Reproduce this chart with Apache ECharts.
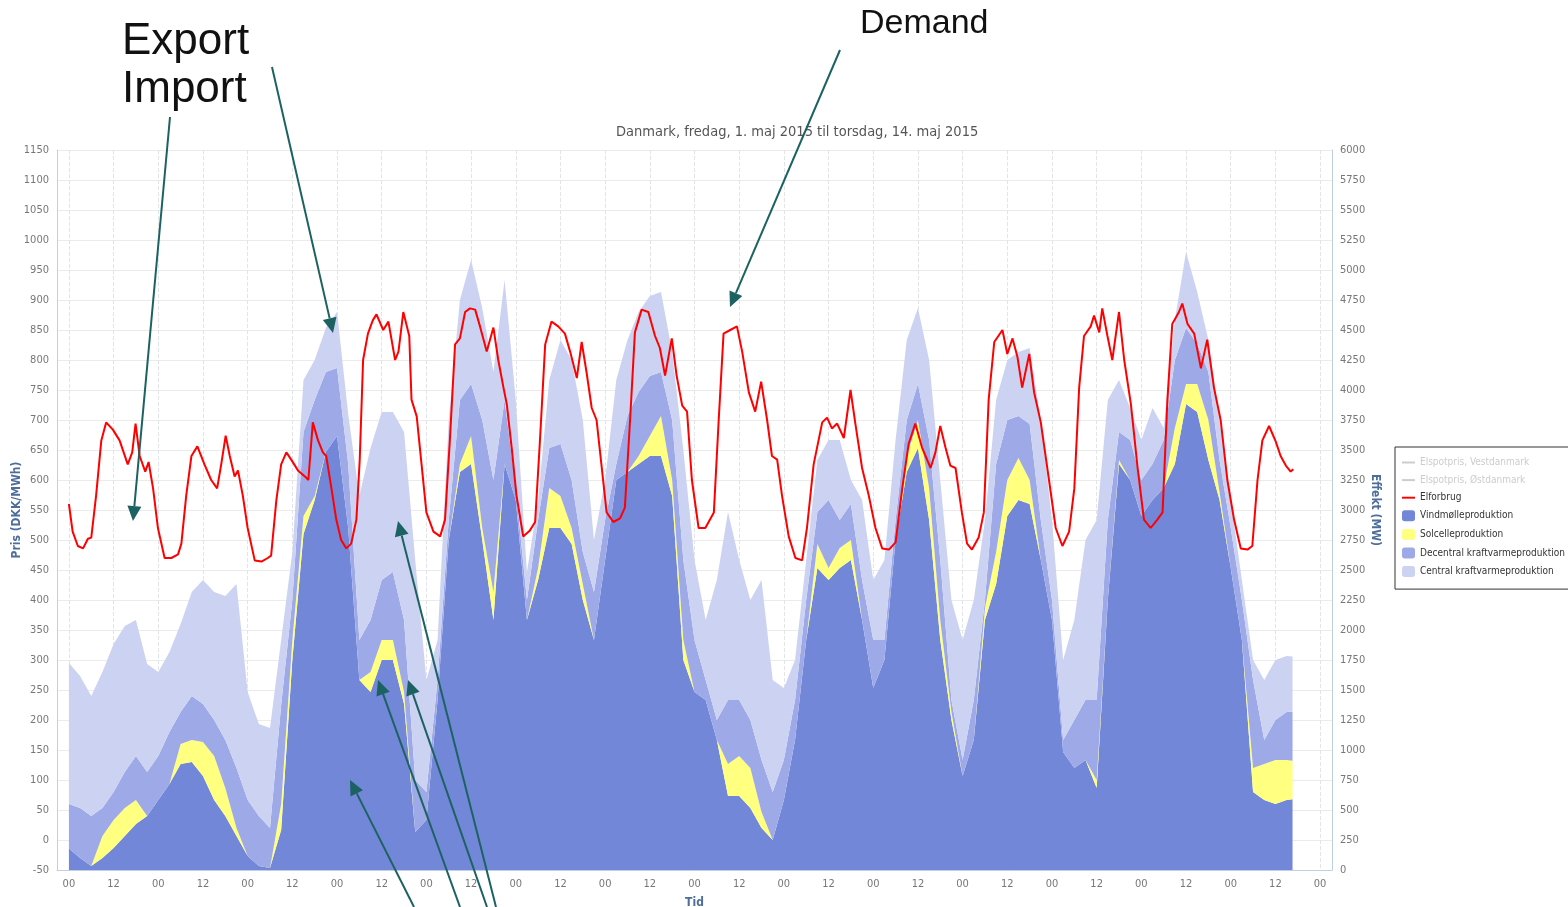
<!DOCTYPE html>
<html>
<head>
<meta charset="utf-8">
<title>Danmark, elproduktion og forbrug, maj 2015</title>
<script src="https://cdn.jsdelivr.net/npm/echarts@6.0.0/dist/echarts.min.js"></script>
<style>
  html, body { margin: 0; padding: 0; background: #fff; }
  #chart { width: 1568px; height: 907px; }
</style>
</head>
<body>
<div id="chart"></div>
<script>
// Production is read every 3 hours (last sample at the right edge of the data)
const prodHours = Array.from({ length: 110 }, (_, i) => i * 3).concat([328.6]);

// Wind production (MW)
const windMW = [
  180, 100, 33, 100, 183, 283, 383, 450,
  583, 717, 883, 900, 783, 583, 450, 283,
  117, 33, 17, 333, 1750, 2800, 3083, 3483,
  3617, 2850, 1583, 1483, 1750, 1750, 1383, 317,
  417, 1417, 2750, 3317, 3383, 2750, 2083, 3383,
  3083, 2083, 2417, 2850, 2850, 2717, 2250, 1917,
  2583, 3250, 3317, 3383, 3450, 3450, 3117, 1750,
  1483, 1417, 1083, 617, 617, 517, 350, 250,
  583, 1083, 1917, 2517, 2417, 2517, 2583, 2083,
  1517, 1750, 2750, 3317, 3517, 2917, 1917, 1250,
  783, 1083, 2083, 2383, 2950, 3083, 3050, 2583,
  2083, 983, 850, 917, 683, 2250, 3383, 3250,
  2950, 3083, 3183, 3383, 3883, 3817, 3417, 3083,
  2517, 1917, 650, 583, 550, 583, 590
];
// Top of the solar layer (wind + solar, MW)
const solarTopMW = [
  180, 100, 33, 283, 417, 517, 583, 450,
  583, 717, 1050, 1083, 1067, 950, 683, 350,
  117, 33, 17, 550, 1917, 2950, 3117, 3483,
  3617, 2850, 1583, 1650, 1917, 1917, 1483, 317,
  417, 1417, 2750, 3383, 3617, 2850, 2317, 3383,
  3083, 2083, 2517, 3183, 3117, 2850, 2383, 1917,
  2583, 3250, 3317, 3450, 3617, 3783, 3250, 1917,
  1483, 1417, 1083, 883, 950, 850, 483, 250,
  583, 1083, 1917, 2717, 2517, 2683, 2750, 2083,
  1517, 1750, 2750, 3450, 3750, 3183, 2083, 1317,
  783, 1083, 2183, 2650, 3250, 3433, 3250, 2583,
  2083, 983, 850, 917, 750, 2250, 3417, 3250,
  2950, 3083, 3183, 3683, 4050, 4050, 3750, 3150,
  2517, 1917, 850, 883, 917, 917, 910
];
// Top of the decentral CHP layer (MW)
const decentralTopMW = [
  550, 517, 450, 517, 650, 817, 950, 817,
  950, 1150, 1317, 1450, 1383, 1250, 1083, 850,
  583, 450, 350, 1375, 2250, 3650, 3917, 4150,
  4183, 3383, 1917, 2083, 2417, 2483, 2083, 750,
  650, 1583, 2917, 3917, 4050, 3750, 3250, 3917,
  3183, 2250, 2917, 3517, 3550, 3250, 2650, 2317,
  2917, 3383, 3783, 3983, 4117, 4150, 3750, 2583,
  1917, 1583, 1250, 1417, 1417, 1250, 917, 650,
  917, 1417, 2250, 2983, 3083, 2917, 3050, 2417,
  1917, 1917, 2917, 3750, 4050, 3583, 2583, 1417,
  917, 1417, 2250, 3383, 3750, 3783, 3717, 2917,
  2250, 1083, 1250, 1417, 1417, 2917, 3650, 3583,
  3250, 3383, 3583, 4250, 4517, 4383, 4150, 3417,
  2850, 2250, 1583, 1083, 1250, 1317, 1320
];
// Top of the central CHP layer, i.e. total production (MW)
const centralTopMW = [
  1725, 1617, 1450, 1650, 1883, 2033, 2083, 1717,
  1650, 1817, 2050, 2317, 2417, 2317, 2283, 2383,
  1483, 1217, 1183, 1917, 2650, 4083, 4250, 4517,
  4650, 3800, 3117, 3517, 3817, 3817, 3650, 2583,
  1583, 1917, 3750, 4750, 5083, 4683, 4150, 4917,
  3917, 2483, 3083, 4083, 4417, 4250, 3750, 2750,
  3250, 4083, 4417, 4650, 4783, 4817, 4317, 3500,
  2583, 2083, 2417, 2983, 2583, 2250, 2417, 1583,
  1517, 1750, 2583, 3417, 3583, 3583, 3250, 3083,
  2417, 2583, 3583, 4417, 4683, 4250, 3250, 2250,
  1917, 2250, 2917, 3917, 4250, 4317, 4350, 3750,
  2917, 1750, 2083, 2750, 2917, 3917, 4083, 3850,
  3583, 3850, 3683, 4583, 5150, 4817, 4417, 3750,
  3083, 2417, 1750, 1583, 1750, 1783, 1780
];

// Electricity demand (Elforbrug), hours since 1 May 00:00 and MW
const demandHours = [
  0, 1, 2.4, 3.8, 5.1, 6, 7.3, 8.7, 10, 11.8, 13.6, 15.8, 17, 17.9, 19, 20.5, 21.4, 22.6, 23.9, 25.7,
  27.5, 29.3, 30.2, 31.5, 32.9, 34.5, 36.4, 38.2, 39.8, 40.9, 42.1, 43.2, 44.5, 45.4, 46.7, 48, 49.9, 51.7, 53.4, 54.3,
  55.7, 57, 58.4, 59.7, 61.5, 63.7, 64.3, 65.5, 66.9, 68.2, 69.1, 70.5, 71.8, 73.1, 74.5, 75.8, 77.2, 78.1, 79, 80.3,
  81.6, 82.6, 84.4, 85.8, 87.6, 88.5, 89.8, 91.4, 92, 93.4, 94.7, 96, 97.9, 99.7, 101, 102.3, 103.7, 105, 106.4, 107.7,
  109.1, 110.4, 112.2, 114, 115.3, 116.7, 117.6, 118.9, 120.2, 122, 123.8, 125.2, 126.5, 127.9, 129.6, 131.4, 133.2, 134.6, 136.4, 137.7,
  139, 140.4, 141.7, 143, 144.4, 146.2, 148, 149.3, 150.7, 152, 153.8, 155.6, 157.4, 158.7, 160.1, 161.9, 163.2,
  164.7, 166, 167.3, 169.1, 170.9, 173.2, 174.5, 175.8, 177.6, 179.4, 180.8, 182.6, 184.3, 185.9, 187.5, 188.8, 190.2, 191.5, 193.3, 195.1,
  196.9, 198.2, 200, 202.3, 203.6, 204.9, 206.3, 208.1, 209.9, 211.2, 213, 214.8, 216.6, 218.4, 220.2, 222, 223.8, 225.5, 227.3, 229.1,
  231.4, 232.7, 234, 235.4, 236.7, 238.1, 239.8, 241.2, 242.5, 244.3, 245.7, 247,
  248.5, 250.7, 252, 253.4, 254.7, 256, 257.9, 259.2, 261, 263.2, 265, 266.8, 268.6, 270, 271.3, 272.6, 274.4, 275.3, 276.7, 277.5,
  278.9, 280.2, 282, 283.4, 285.2, 287, 288.7, 290.5, 292.3, 293.7, 295, 296.3, 298.1, 299, 300.4, 302.2, 304, 305.7, 307.5, 309.3,
  311.1, 312.9, 314.7, 316.5, 317.8, 319.2, 320.5, 322.3, 324.1, 325.4, 326.8, 328.1, 328.8
];
const demandMW = [
  3050, 2820, 2700, 2680, 2760, 2770, 3120, 3580, 3730, 3670, 3580, 3380, 3480, 3720, 3450, 3320, 3400, 3180, 2850, 2600,
  2600, 2630, 2720, 3120, 3450, 3530, 3380, 3250, 3180, 3380, 3620, 3450, 3280, 3330, 3120, 2850, 2580, 2570, 2600, 2620,
  3080, 3380, 3480, 3420, 3330, 3270, 3250, 3730, 3580, 3480, 3450, 3180, 2920, 2750, 2680, 2720, 2920, 3420, 4250, 4470,
  4580, 4630, 4500, 4570, 4250, 4320, 4650, 4450, 3920, 3780, 3380, 2980, 2820, 2780, 2920, 3580, 4380, 4430, 4650, 4680,
  4670, 4530, 4320, 4520, 4250, 4020, 3880, 3520, 3120, 2780, 2830, 2900, 3580, 4380, 4570, 4530, 4470, 4320, 4100, 4400,
  4150, 3850, 3750, 3380, 2980, 2900, 2930, 3020, 3750, 4480, 4670, 4650, 4450, 4350, 4120, 4430, 4120,
  3870, 3820, 3250, 2850, 2850, 2980, 3750, 4470, 4500, 4530, 4320, 3980, 3820, 4070, 3750, 3450, 3420, 3120, 2780, 2600,
  2580, 2850, 3380, 3730, 3770, 3680, 3720, 3600, 4000, 3720, 3350, 3120, 2850, 2680, 2670, 2730, 3180, 3550, 3720, 3520,
  3350, 3480, 3700, 3520, 3370, 3350, 2980, 2720, 2670, 2770, 2980, 3920,
  4400, 4500, 4300, 4430, 4280, 4020, 4300, 3980, 3730, 3250, 2850, 2700, 2820, 3180, 4020, 4450, 4530, 4620, 4480, 4680,
  4450, 4250, 4650, 4250, 3880, 3350, 2920, 2850, 2920, 2980, 3920, 4550, 4650, 4720, 4550, 4470, 4180, 4420, 4020, 3750,
  3250, 2920, 2680, 2670, 2700, 3250, 3580, 3700, 3570, 3450, 3370, 3320, 3340
];

// Series own values (layer thickness) from the stacked tops
const solarMW = solarTopMW.map((v, i) => v - windMW[i]);
const decentralMW = decentralTopMW.map((v, i) => v - solarTopMW[i]);
const centralMW = centralTopMW.map((v, i) => v - decentralTopMW[i]);

const START = new Date(2015, 4, 1).getTime();
const HOUR = 3600 * 1000;
const FONT = "'Liberation Sans Narrow', 'DejaVu Sans Condensed', sans-serif";
const ARROW = '#1d6262';
const AXIS_NAME = { color: '#4d6d9a', fontWeight: 'bold', fontSize: 12, fontFamily: FONT };
const TICK_LABEL = { color: '#777', fontSize: 11, fontFamily: FONT };
const LINE_ICON = 'path://M0,0L16,0L16,2.4L0,2.4Z';

// plot spans 3.2 h before 1 May 00:00 to 3.2 h after 15 May 00:00
const X_MIN = -3.2, X_MAX = 339.2;
const PLOT_LEFT = 57, PLOT_RIGHT = 1332;
const pxPerHour = (PLOT_RIGHT - PLOT_LEFT) / (X_MAX - X_MIN);

function areaSeries(name, color, values) {
  return {
    name: name,
    type: 'line',
    xAxisIndex: 0,
    yAxisIndex: 1,
    stack: 'produktion',
    symbol: 'none',
    lineStyle: { width: 0 },
    itemStyle: { color: color },
    areaStyle: { color: color, opacity: 1 },
    emphasis: { disabled: true },
    data: prodHours.map((h, i) => [START + h * HOUR, values[i]])
  };
}

// line with a filled triangle head at (x2, y2)
function arrow(x1, y1, x2, y2) {
  const a = Math.atan2(y2 - y1, x2 - x1);
  const len = 15, half = 7;
  const bx = x2 - len * Math.cos(a), by = y2 - len * Math.sin(a);
  const nx = -Math.sin(a) * half, ny = Math.cos(a) * half;
  return [
    { type: 'line', z: 100, shape: { x1: x1, y1: y1, x2: bx, y2: by }, style: { stroke: ARROW, lineWidth: 2 } },
    { type: 'polygon', z: 100, shape: { points: [[x2, y2], [bx + nx, by + ny], [bx - nx, by - ny]] }, style: { fill: ARROW } }
  ];
}

function label(text, x, y, size) {
  return {
    type: 'text', z: 100, x: x, y: y,
    style: { text: text, fill: '#111', font: size + "px 'Liberation Sans', Arial, sans-serif", verticalAlign: 'middle' }
  };
}

const annotations = [].concat(
  label('Export', 122, 42, 44),
  label('Import', 122, 90, 44),
  label('Demand', 860, 24, 34),
  arrow(170, 117, 133, 521),
  arrow(272, 67, 333, 333),
  arrow(840, 50, 730, 307),
  arrow(414, 907, 350, 780),
  arrow(460, 907, 378, 680),
  arrow(487, 907, 408, 680),
  arrow(496, 907, 398, 521)
);

const chart = echarts.init(document.getElementById('chart'));

chart.setOption({
  animation: false,
  backgroundColor: '#fff',
  title: {
    text: 'Danmark, fredag, 1. maj 2015 til torsdag, 14. maj 2015',
    left: 611,
    top: 120,
    textStyle: { color: '#555', fontSize: 14.5, fontWeight: 'normal', fontFamily: FONT }
  },
  legend: {
    orient: 'vertical',
    left: 1395,
    top: 447,
    padding: [10.5, 8, 12, 7],
    borderColor: '#333',
    borderWidth: 1,
    itemWidth: 13,
    itemHeight: 11,
    itemGap: 7.6,
    inactiveColor: '#cccccc',
    textStyle: { color: '#333', fontSize: 10, fontFamily: FONT },
    selected: { 'Elspotpris, Vestdanmark': false, 'Elspotpris, Østdanmark': false },
    data: [
      { name: 'Elspotpris, Vestdanmark', icon: LINE_ICON },
      { name: 'Elspotpris, Østdanmark', icon: LINE_ICON },
      { name: 'Elforbrug', icon: LINE_ICON },
      { name: 'Vindmølleproduktion', icon: 'roundRect' },
      { name: 'Solcelleproduktion', icon: 'roundRect' },
      { name: 'Decentral kraftvarmeproduktion', icon: 'roundRect' },
      { name: 'Central kraftvarmeproduktion', icon: 'roundRect' }
    ]
  },
  grid: [
    // data grid
    { left: PLOT_LEFT, right: 1568 - PLOT_RIGHT, top: 150, bottom: 37, outerBoundsMode: 'none' },
    // tick grid: 00 of 1 May to 00 of 15 May, so 12 h ticks start at a multiple of 12
    {
      left: PLOT_LEFT + (0 - X_MIN) * pxPerHour,
      right: 1568 - (PLOT_LEFT + (336 - X_MIN) * pxPerHour),
      top: 150, bottom: 37, outerBoundsMode: 'none'
    }
  ],
  xAxis: [
    {
      gridIndex: 0,
      type: 'time',
      min: START + X_MIN * HOUR,
      max: START + X_MAX * HOUR,
      axisLine: { onZero: false, lineStyle: { color: '#c0d0e0' } },
      axisTick: { show: false },
      axisLabel: { show: false },
      splitLine: { show: false }
    },
    {
      gridIndex: 1,
      type: 'value',
      min: 0,
      max: 336,
      interval: 12,
      name: 'Tid',
      nameLocation: 'middle',
      nameGap: 27,
      nameMoveOverlap: false,
      nameTextStyle: AXIS_NAME,
      axisLine: { show: false, onZero: false },
      axisTick: { show: false },
      axisLabel: Object.assign({ margin: 9, formatter: v => (v % 24 === 0 ? '00' : '12') }, TICK_LABEL),
      splitLine: { show: true, lineStyle: { color: '#e2e4ea', type: 'dashed' } }
    }
  ],
  yAxis: [
    {
      gridIndex: 0,
      type: 'value',
      position: 'left',
      min: -50,
      max: 1150,
      interval: 50,
      name: 'Pris (DKK/MWh)',
      nameLocation: 'middle',
      nameRotate: 90,
      nameGap: 34,
      nameMoveOverlap: false,
      nameTextStyle: AXIS_NAME,
      axisLine: { show: true, onZero: false, lineStyle: { color: '#c0d0e0' } },
      axisTick: { show: false },
      axisLabel: Object.assign({ margin: 8, formatter: v => String(v) }, TICK_LABEL),
      splitLine: { show: true, lineStyle: { color: '#ebebeb' } }
    },
    {
      gridIndex: 0,
      type: 'value',
      position: 'right',
      min: 0,
      max: 6000,
      interval: 250,
      name: 'Effekt (MW)',
      nameLocation: 'middle',
      nameRotate: -90,
      nameGap: 37,
      nameMoveOverlap: false,
      nameTextStyle: AXIS_NAME,
      axisLine: { show: true, onZero: false, lineStyle: { color: '#c0d0e0' } },
      axisTick: { show: false },
      axisLabel: Object.assign({ margin: 8, formatter: v => String(v) }, TICK_LABEL),
      splitLine: { show: false }
    },
    // partner axis of the tick grid, not drawn
    { gridIndex: 1, type: 'value', min: 0, max: 1, show: false }
  ],
  series: [
    areaSeries('Vindmølleproduktion', '#7387d9', windMW),
    areaSeries('Solcelleproduktion', '#ffff80', solarMW),
    areaSeries('Decentral kraftvarmeproduktion', '#9ea9e7', decentralMW),
    areaSeries('Central kraftvarmeproduktion', '#ccd2f2', centralMW),
    {
      name: 'Elforbrug',
      type: 'line',
      xAxisIndex: 0,
      yAxisIndex: 1,
      symbol: 'none',
      z: 5,
      color: '#ff0000',
      lineStyle: { color: '#ff0000', width: 2 },
      data: demandHours.map((h, i) => [START + h * HOUR, demandMW[i]])
    },
    { name: 'Elspotpris, Vestdanmark', type: 'line', xAxisIndex: 0, yAxisIndex: 0, symbol: 'none', color: '#888', data: [] },
    { name: 'Elspotpris, Østdanmark', type: 'line', xAxisIndex: 0, yAxisIndex: 0, symbol: 'none', color: '#888', data: [] }
  ],
  graphic: annotations
});
</script>
</body>
</html>
